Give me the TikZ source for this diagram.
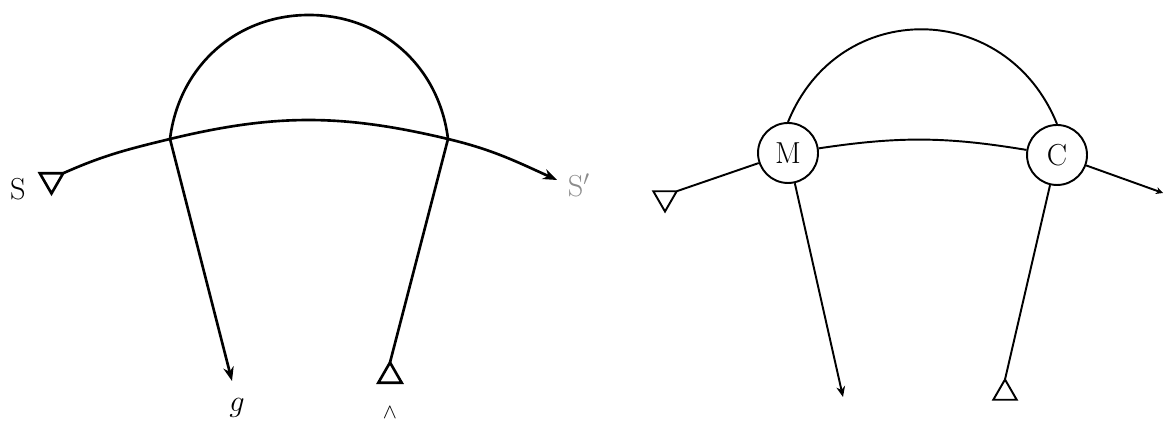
\documentclass[tikz,border=0pt]{standalone}
\usetikzlibrary{arrows.meta, shapes.geometric}
\begin{document}
\begin{tikzpicture}[x=0.02cm,y=0.02cm,
    thickline/.style={line width=1.5pt},
    thinline/.style={line width=1.1pt},
    trinode/.style={draw, regular polygon, regular polygon sides=3,
      minimum size=0.54cm, inner sep=0pt, outer sep=0pt},
    tridown/.style={trinode, shape border rotate=180},
    unit/.style={draw, circle, line width=1.1pt, minimum size=1.2cm,
      inner sep=0pt, font=\LARGE},
    lbl/.style={font=\LARGE}]
  \useasboundingbox (0,0) rectangle (1168,421);

  % left: open loop
  \node[tridown, thickline] (src) at (51.5,241) {};
  \node[lbl] (srclbl) at (18,232) {S};
  \coordinate (cl) at (170,282);
  \coordinate (cr) at (448,282);
  \coordinate (top) at (309,406);
  \coordinate (sout) at (557,241);
  \node[lbl, text=black!45] (soutlbl) at (579,236) {S$'$};
  \coordinate (gend) at (232,40);
  \node[lbl] (glbl) at (237,13) {$g$};
  \node[trinode, thickline] (ref) at (390,45) {};
  \node (reflbl) at (390,8) {\large$\wedge$};

  \draw[thickline, -{Stealth[length=8pt,width=6pt]}] (src.30)
    to[out=24,in=193.6] (cl) to[out=13.6,in=166.6] (cr)
    to[out=-13.4,in=155.6] (sout);
  \draw[thickline] (cl) to[out=83,in=180] (top) to[out=0,in=97] (cr);
  \draw[thickline, -{Stealth[length=8pt,width=6pt]}] (cl) -- (gend);
  \draw[thickline] (cr) -- (ref.90);

  % right: closed loop
  \node[unit] (M) at (788,268) {M};
  \node[unit] (C) at (1057,266) {C};
  \node[tridown, thinline] (rsrc) at (665,223) {};
  \coordinate (rout) at (1163,228);
  \coordinate (mend) at (843,24);
  \node[trinode, thinline] (rref) at (1005,28) {};

  \draw[thinline] (rsrc.30) -- (M);
  \draw[thinline] (M) to[bend left=9] (C);
  \draw[thinline, -{Stealth[length=4pt,width=4pt]}] (C) -- (rout);
  \draw[thinline] (M.north) to[out=68,in=112,looseness=1.28] (C.north);
  \draw[thinline, -{Stealth[length=6pt,width=5pt]}] (M) -- (mend);
  \draw[thinline] (C) -- (rref.90);
\end{tikzpicture}
\end{document}
